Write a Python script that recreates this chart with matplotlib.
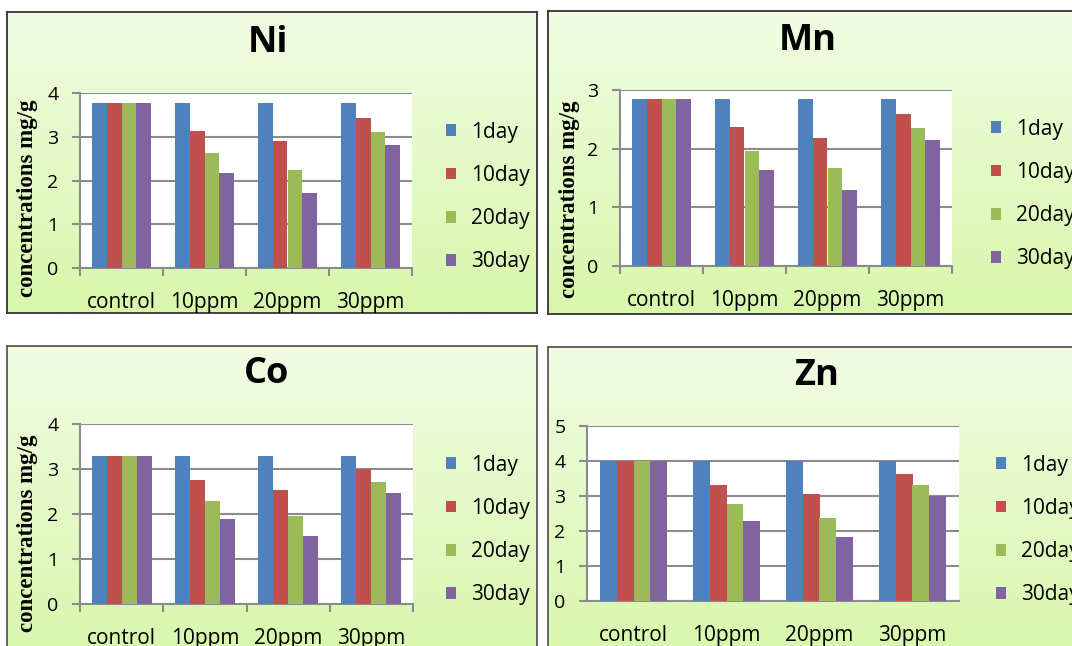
import numpy as np
import matplotlib
matplotlib.use('Agg')
import matplotlib.pyplot as plt
from matplotlib.colors import LinearSegmentedColormap

# categories and series
categories = ['control', '10ppm', '20ppm', '30ppm']
days = ['1day', '10day', '20day', '30day']

# concentrations (mg/g), one row per day
ni_values = [[3.78, 3.78, 3.78, 3.78],
             [3.78, 3.13, 2.90, 3.42],
             [3.78, 2.62, 2.23, 3.11],
             [3.78, 2.18, 1.72, 2.82]]
mn_values = [[2.85, 2.85, 2.85, 2.85],
             [2.85, 2.37, 2.18, 2.59],
             [2.85, 1.96, 1.67, 2.36],
             [2.85, 1.63, 1.29, 2.14]]
co_values = [[3.29, 3.29, 3.29, 3.29],
             [3.29, 2.75, 2.54, 2.99],
             [3.29, 2.28, 1.96, 2.72],
             [3.29, 1.90, 1.51, 2.46]]
zn_values = [[4.00, 4.00, 4.00, 4.00],
             [4.00, 3.31, 3.05, 3.64],
             [4.00, 2.76, 2.37, 3.31],
             [4.00, 2.30, 1.82, 3.01]]

colors = ['#4F81BD', '#C0504D', '#9BBB59', '#8064A2']
grid_color = '#8C8C8C'
font = 'Open Sans'

W, H = 1072, 646
fig = plt.figure(figsize=(W / 100, H / 100), dpi=100)
bg_cmap = LinearSegmentedColormap.from_list('bg', ['#F1FCE3', '#D8F7AB'])


def px_axes(x0, y0, x1, y1, **kw):
    return fig.add_axes([x0 / W, 1 - y1 / H, (x1 - x0) / W, (y1 - y0) / H], **kw)


def panel(box, plot_box, title, title_xy, values, ymax, legend_xy,
          ylabel_xy=None, separators=True, border='#333333'):
    # background box with vertical gradient
    bg = px_axes(*box)
    bg.imshow(np.linspace(0, 1, 256).reshape(-1, 1), cmap=bg_cmap,
              aspect='auto', extent=[0, 1, 0, 1])
    bg.set_xticks([])
    bg.set_yticks([])
    for s in bg.spines.values():
        s.set_color(border)
        s.set_linewidth(1.3)

    fig.text(title_xy[0] / W, 1 - title_xy[1] / H, title, ha='center',
             va='baseline', fontsize=26, fontweight='bold', family=font)

    ax = px_axes(*plot_box)
    ax.set_facecolor('white')
    x = np.arange(len(categories))
    w = 0.18
    for i, day in enumerate(days):
        ax.bar(x + (i - 1.5) * w, values[i], w, color=colors[i], label=day,
               zorder=3)

    ax.set_xlim(-0.5, len(categories) - 0.5)
    ax.set_ylim(0, ymax)
    ax.set_yticks(range(ymax + 1))
    ax.yaxis.grid(True, color=grid_color, linewidth=1.5, zorder=1)
    ax.set_axisbelow(True)

    ax.set_xticks(x)
    ax.set_xticklabels(categories, fontsize=15, family=font)
    ax.tick_params(axis='x', which='major', length=0, pad=17)
    if separators:
        ax.set_xticks(np.arange(len(categories) + 1) - 0.5, minor=True)
        ax.tick_params(axis='x', which='minor', length=5.5, width=1.5,
                       color=grid_color)
    ax.tick_params(axis='y', length=5.5, width=1.5, color=grid_color,
                   labelsize=14, pad=10)
    for lab in ax.get_yticklabels():
        lab.set_family(font)

    for side in ['top', 'right']:
        ax.spines[side].set_visible(False)
    for side in ['left', 'bottom']:
        ax.spines[side].set_color(grid_color)
        ax.spines[side].set_linewidth(1.5)

    if ylabel_xy is not None:
        fig.text(ylabel_xy[0] / W, 1 - ylabel_xy[1] / H, 'concentrations mg/g',
                 rotation=90, ha='center', va='center', fontsize=16.5,
                 fontweight='bold', family='Liberation Serif')

    ax.legend(loc='center left', bbox_to_anchor=(legend_xy[0] / W, 1 - legend_xy[1] / H),
              bbox_transform=fig.transFigure, frameon=False,
              prop={'family': font, 'size': 15},
              handlelength=0.5, handleheight=0.5, handletextpad=0.7,
              labelspacing=1.07, borderpad=0, borderaxespad=0)
    return ax


panel((7, 12, 537, 313), (80, 93, 412, 268), 'Ni', (268, 52), ni_values, 4,
      (446, 197), ylabel_xy=(28, 198))
panel((548, 11, 1085, 314), (620, 90, 952, 266), 'Mn', (808, 50), mn_values, 3,
      (991, 194), ylabel_xy=(570, 199))
panel((7, 346, 537, 660), (80, 424, 413, 604), 'Co', (267, 383), co_values, 4,
      (446, 530), ylabel_xy=(28, 533), border='#5A5A5A')
panel((548, 347, 1085, 660), (587, 426, 959, 601), 'Zn', (817, 385), zn_values, 5,
      (996, 530), separators=False, border='#5A5A5A')

plt.savefig('out.png', dpi=100)
